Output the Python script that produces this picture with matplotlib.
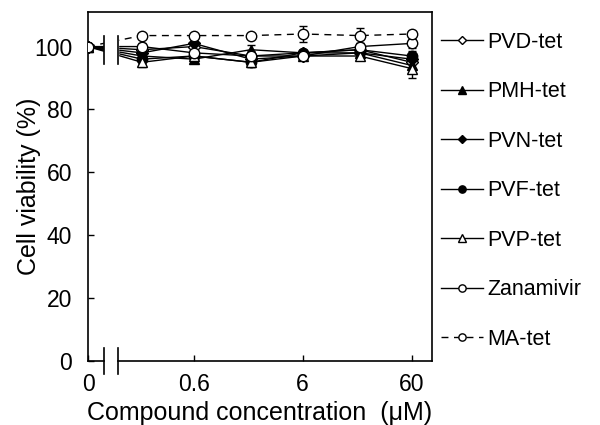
import numpy as np
import matplotlib
matplotlib.use("Agg")
import matplotlib.pyplot as plt
from matplotlib.ticker import NullLocator

plt.rcParams['font.family'] = ['Liberation Sans', 'DejaVu Sans']

# concentrations (uM); 0 is drawn at a stand-in position left of the axis break
conc = [0, 0.2, 0.6, 2, 6, 20, 60]
zero_pos = 0.064

labels = ["PVD-tet", "PMH-tet", "PVN-tet", "PVF-tet", "PVP-tet", "Zanamivir", "MA-tet"]

pvd = [100, 99, 100, 97, 98, 99, 95]
pmh = [100, 97, 96, 99, 98, 98, 94]
pvn = [100, 98, 101, 96, 97, 98, 96]
pvf = [100, 96, 97, 95, 98, 99, 97]
pvp = [100, 95, 97, 95, 97, 97, 93]
zan = [100, 100, 98, 97, 97, 100, 101]
ma = [100, 103.5, 103.5, 103.5, 104, 103.5, 104]

pvd_err = [0.5, 1.0, 1.0, 1.5, 1.0, 1.0, 2.0]
pmh_err = [0.5, 1.5, 1.0, 1.5, 1.0, 1.0, 2.0]
pvn_err = [0.5, 1.0, 1.5, 1.5, 1.0, 1.0, 1.5]
pvf_err = [0.5, 1.5, 1.0, 1.5, 1.0, 1.0, 1.5]
pvp_err = [0.5, 1.5, 1.0, 1.5, 1.0, 1.0, 3.0]
zan_err = [0.5, 1.0, 1.0, 1.0, 1.0, 1.0, 1.5]
ma_err = [0.5, 0.5, 0.5, 0.5, 2.5, 2.5, 1.0]

series = [pvd, pmh, pvn, pvf, pvp, zan, ma]
errs = [pvd_err, pmh_err, pvn_err, pvf_err, pvp_err, zan_err, ma_err]
styles = [('D', 'white', '-'), ('^', 'black', '-'), ('D', 'black', '-'),
          ('o', 'black', '-'), ('^', 'white', '-'), ('o', 'white', '-'),
          ('o', 'white', '--')]

x = np.array([c if c > 0 else zero_pos for c in conc], dtype=float)

fig = plt.figure(figsize=(6, 4.25), dpi=100)
ax = fig.add_axes([0.1467, 0.1506, 0.5733, 0.8212])

handles = []
for y, e, (m, fc, ls), lab in zip(series, errs, styles, labels):
    ax.errorbar(x, y, yerr=e, fmt='none', ecolor='black', elinewidth=1,
                capsize=3, capthick=1, zorder=2)
    h, = ax.plot(x, y, color='black', lw=1, ls=ls, marker=m, mfc=fc, mec='black',
                 mew=1, ms=7.5 if m != 'D' else 6.5, label=lab, zorder=3,
                 dashes=(5, 4) if ls == '--' else (None, None))
    handles.append(h)

ax.set_xscale('log')
ax.set_xlim(zero_pos, 92.3)
ax.set_ylim(0, 111)

# axis break
b1, b2 = 0.0904, 0.1194
ax.fill_between([b1, b2], 94.6, 103.5, color='white', zorder=4)
for b in (b1, b2):
    ax.plot([b, b], [94.6, 103.5], color='black', lw=1.2, zorder=5)
    ax.plot([b, b], [-4.1, 4.1], color='black', lw=1.2, clip_on=False, zorder=5)
ax.spines['bottom'].set_visible(False)
ax.plot([zero_pos, b1], [0, 0], color='black', lw=1.2, clip_on=False, zorder=5)
ax.plot([b2, 92.3], [0, 0], color='black', lw=1.2, clip_on=False, zorder=5)
for s in ('left', 'right', 'top'):
    ax.spines[s].set_linewidth(1.2)

ax.xaxis.set_minor_locator(NullLocator())
ax.set_xticks([zero_pos, 0.6, 6, 60])
ax.set_xticklabels(['0', '0.6', '6', '60'])
ax.set_yticks([0, 20, 40, 60, 80, 100])
ax.tick_params(direction='in', length=4, width=1, labelsize=16.5)
ax.tick_params(axis='x', pad=9)
ax.tick_params(axis='y', pad=11.5)

ax.set_ylabel('Cell viability (%)', fontsize=18, labelpad=-5)
ax.set_xlabel('Compound concentration  (\u03bcM)', fontsize=18, labelpad=3)

leg = ax.legend(handles=handles, loc='upper left', bbox_to_anchor=(1.0, 0.968),
                frameon=False, fontsize=15.5, handlelength=1.95, handletextpad=0.2,
                labelspacing=1.325, markerscale=0.7, borderaxespad=0)

fig.savefig('out.png', dpi=100)
